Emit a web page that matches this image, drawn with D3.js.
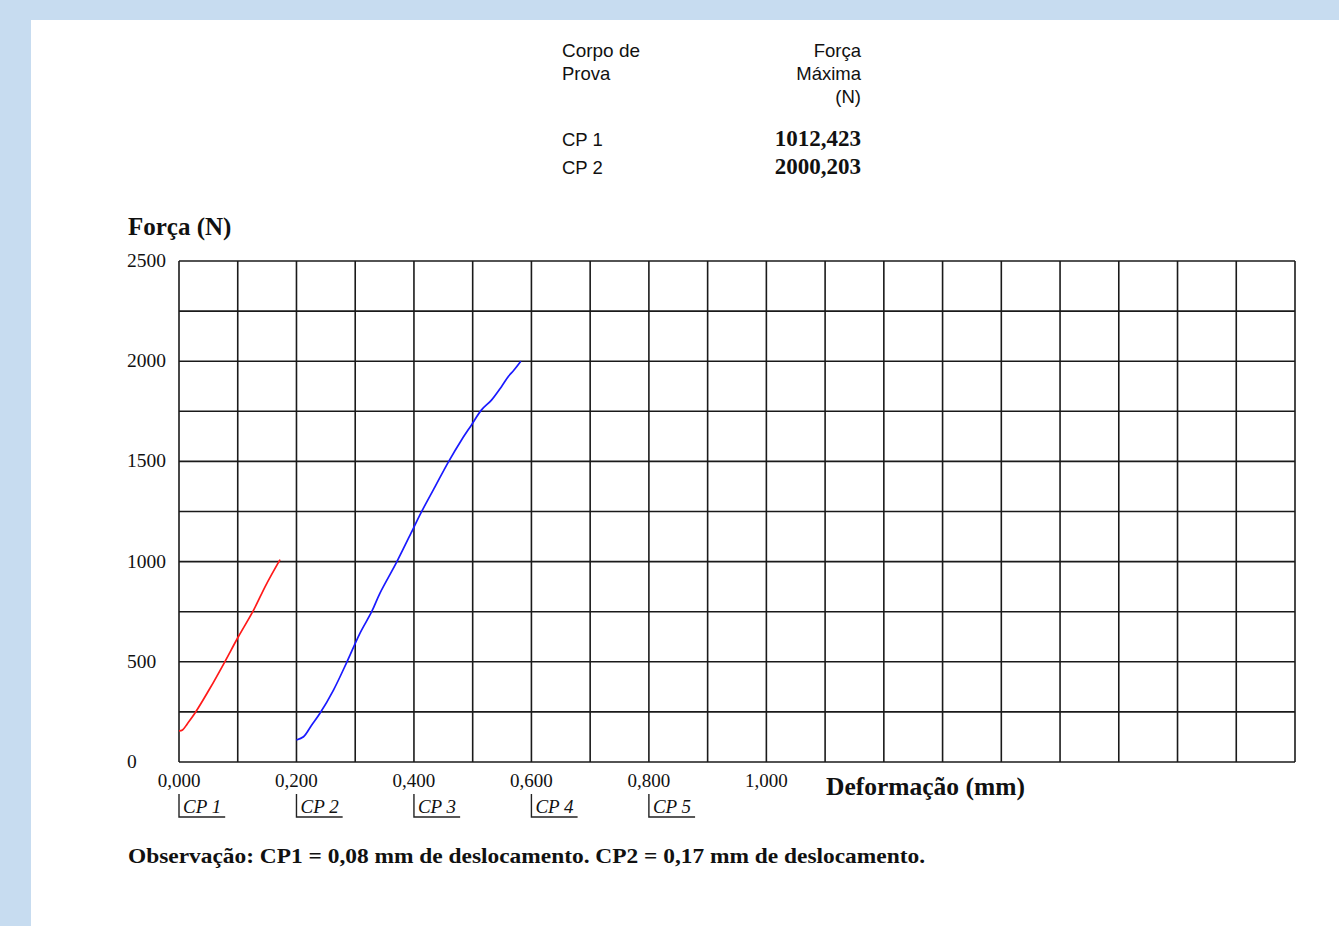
<!DOCTYPE html>
<html><head><meta charset="utf-8">
<script src="https://cdn.jsdelivr.net/npm/d3@7"></script>
<style>
html,body{margin:0;padding:0;background:#c7dcf0;}
svg{display:block;}
</style></head><body>
<script>
// ---- data ----
const tableHeaders = [["Corpo de","Prova"],["Força","Máxima","(N)"]];
const specimens = ["CP 1","CP 2"];
const maxForces = ["1012,423","2000,203"];
const xTickValues = [0,0.2,0.4,0.6,0.8,1.0];
const xTickLabels = ["0,000","0,200","0,400","0,600","0,800","1,000"];
const yTickValues = [0,500,1000,1500,2000,2500];
const cpMarkers = ["CP 1","CP 2","CP 3","CP 4","CP 5"];
const cpMarkerX = [0,0.2,0.4,0.6,0.8];
const cp1Def = [0.000,0.006,0.014,0.027,0.053,0.078,0.101,0.127,0.148,0.172];
const cp1Force = [155,160,190,243,369,500,625,758,883,1010];
const cp2Def = [0.200,0.212,0.226,0.240,0.263,0.286,0.308,0.328,0.342,0.371,0.399,0.413,0.436,0.459,0.481,0.498,0.515,0.532,0.549,0.561,0.570,0.582];
const cp2Force = [110,126,185,243,359,500,642,750,842,1000,1166,1249,1374,1499,1607,1682,1757,1806,1873,1925,1955,2000];
const seriesColors = ["#ff1a1a","#1a1aff"];
const observation = "Observação: CP1 = 0,08 mm de deslocamento. CP2 = 0,17 mm de deslocamento.";

const W=1339,H=926;
const svg=d3.select("body").append("svg").attr("width",W).attr("height",H);
svg.append("rect").attr("x",0).attr("y",0).attr("width",W).attr("height",H).attr("fill","#c7dcf0");
svg.append("rect").attr("x",31).attr("y",20).attr("width",W-31).attr("height",H-20).attr("fill","#fff");

const serif="'Liberation Serif','Times New Roman',serif";
const sans="'Liberation Sans',Arial,sans-serif";
const ink="#111";

// table
tableHeaders[0].forEach((t,i)=>svg.append("text").attr("x",562).attr("y",57+i*23).attr("font-family",sans).attr("font-size",18.5).attr("fill",ink).attr("textLength",i==0?78:null).attr("lengthAdjust","spacingAndGlyphs").text(t));
tableHeaders[1].forEach((t,i)=>svg.append("text").attr("x",861).attr("y",57+i*23).attr("text-anchor","end").attr("font-family",sans).attr("font-size",18.5).attr("fill",ink).text(t));
specimens.forEach((t,i)=>{
  svg.append("text").attr("x",562).attr("y",146+i*28).attr("font-family",sans).attr("font-size",18.5).attr("fill",ink).text(t);
  svg.append("text").attr("x",861).attr("y",146+i*28).attr("text-anchor","end").attr("font-family",serif).attr("font-weight","bold").attr("font-size",23).attr("fill",ink).text(maxForces[i]);
});

// scales
const x0=179,x1=1295,y0=762,y1=261;
const x=d3.scaleLinear().domain([0,1.9]).range([x0,x1]);
const y=d3.scaleLinear().domain([0,2500]).range([y0,y1]);

// grid
const g=svg.append("g");
g.selectAll("line.v").data(d3.range(0,1.9001,0.1)).enter().append("line")
  .attr("x1",d=>x(d)).attr("x2",d=>x(d)).attr("y1",y1).attr("y2",y0)
  .attr("stroke","#1a1a1a").attr("stroke-width",1.6);
g.selectAll("line.h").data(d3.range(0,2501,250)).enter().append("line")
  .attr("x1",x0).attr("x2",x1).attr("y1",d=>y(d)).attr("y2",d=>y(d))
  .attr("stroke","#1a1a1a").attr("stroke-width",1.6);

// y labels
svg.append("text").attr("x",128).attr("y",235).attr("font-family",serif).attr("font-weight","bold").attr("font-size",25).attr("fill",ink).text("Força (N)");
yTickValues.forEach(v=>svg.append("text").attr("x",127).attr("y",y(v)+6).attr("font-family",serif).attr("font-size",19.5).attr("fill",ink).text(v));

// x labels
xTickValues.forEach((v,i)=>svg.append("text").attr("x",x(v)).attr("y",787).attr("text-anchor","middle").attr("font-family",serif).attr("font-size",19).attr("fill",ink).text(xTickLabels[i]));
svg.append("text").attr("x",826).attr("y",795).attr("font-family",serif).attr("font-weight","bold").attr("font-size",25.5).attr("fill",ink).text("Deformação (mm)");

// CP markers
cpMarkers.forEach((t,i)=>{
  const px=x(cpMarkerX[i]);
  const tx=svg.append("text").attr("x",px+4).attr("y",813).attr("font-family",serif).attr("font-style","italic").attr("font-size",19).attr("fill",ink).text(t);
  const w=tx.node().getComputedTextLength();
  svg.append("path").attr("d",`M${px},794 V817 H${px+w+8}`).attr("fill","none").attr("stroke","#222").attr("stroke-width",1.4);
});

// curves
const line=d3.line().x(d=>x(d[0])).y(d=>y(d[1])).curve(d3.curveCatmullRom.alpha(0.5));
[[cp1Def,cp1Force],[cp2Def,cp2Force]].forEach((s,i)=>{
  svg.append("path").datum(d3.zip(s[0],s[1])).attr("d",line).attr("fill","none").attr("stroke",seriesColors[i]).attr("stroke-width",1.7);
});

// observation
svg.append("text").attr("x",128).attr("y",863).attr("font-family",serif).attr("font-weight","bold").attr("font-size",22).attr("fill",ink).attr("textLength",797).attr("lengthAdjust","spacingAndGlyphs").text(observation);
</script>
</body></html>
